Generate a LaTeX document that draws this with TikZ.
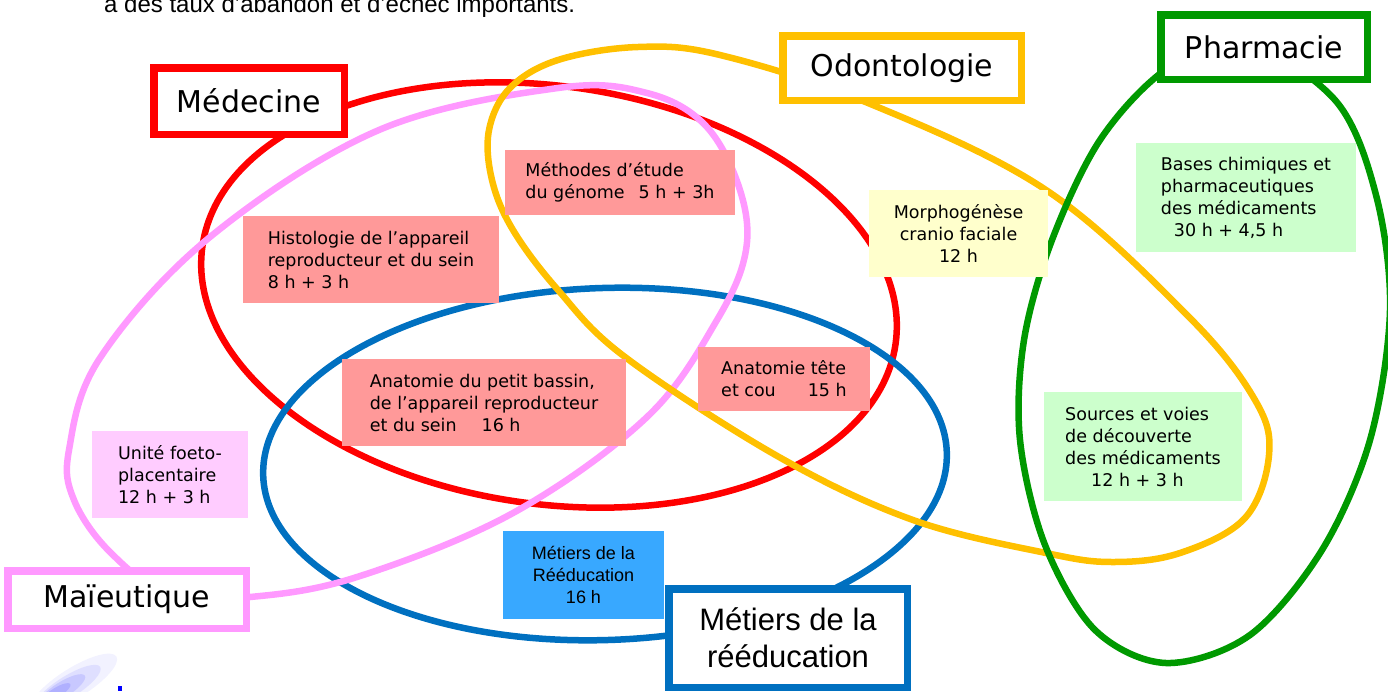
\documentclass[tikz,border=0pt]{standalone}
\usepackage{fontspec}
\setmainfont{DejaVu Sans}
\newfontfamily\arialfont{Liberation Sans}
\definecolor{medred}{HTML}{FF0000}
\definecolor{odoorange}{HTML}{FFC000}
\definecolor{phgreen}{HTML}{009900}
\definecolor{reblue}{HTML}{0070C0}
\definecolor{maipink}{HTML}{FF99FF}
\definecolor{salmon}{HTML}{FF9999}
\definecolor{paleyellow}{HTML}{FFFFCC}
\definecolor{palegreen}{HTML}{CCFFCC}
\definecolor{palepink}{HTML}{FFCCFF}
\definecolor{skyblue}{HTML}{38A8FF}

\begin{document}
\begin{tikzpicture}[x=1pt,y=-1pt,
   ring/.style={line width=6.5pt},
   title/.style={line width=7.5pt,fill=white,text=black,inner sep=0pt,
      font=\fontsize{30}{36}\selectfont},
   course/.style={inner sep=0pt,align=left,font=\fontsize{17.5}{22}\selectfont}]
   \useasboundingbox (0,0) rectangle (1388,691);

   \node[anchor=base west,inner sep=0pt,font=\arialfont\fontsize{24}{28}\selectfont]
      (intro) at (104,12) {à des taux d’abandon et d’échec importants.};

   \fill[blue,opacity=0.05,rotate around={32:(74,683)}] (74,683) ellipse [x radius=50, y radius=15];
   \fill[blue,opacity=0.08,rotate around={32:(68,687)}] (68,687) ellipse [x radius=38, y radius=11];
   \fill[blue,opacity=0.10,rotate around={32:(62,690)}] (62,690) ellipse [x radius=27, y radius=8];
   \fill[blue,opacity=0.12,rotate around={32:(56,693)}] (56,693) ellipse [x radius=17, y radius=5];
   \fill[blue] (118,686) rectangle (122,691);

   \draw[ring,medred] (549,295) ellipse [x radius=350, y radius=209, rotate=-8];
   \draw[ring,reblue] (605,464) ellipse [x radius=342, y radius=176, rotate=2];
   \draw[ring,maipink] plot[smooth cycle,tension=0.6] coordinates {
      (69,450) (100,358) (210,237) (379,130) (558,88) (647,93) (705,125)
      (739,187) (746,250) (717,320) (647,417) (513,513) (357,577) (250,597)
      (170,595) (110,552) (74,500)};
   \draw[ring,odoorange] plot[smooth cycle,tension=0.6] coordinates {
      (489,130) (510,88) (558,60) (638,47) (720,55) (868,103) (1046,190)
      (1189,317) (1255,400) (1269,455) (1245,518) (1180,553) (1113,562)
      (1046,553) (913,520) (779,457) (625,357) (558,290) (513,230) (492,180)};
   \draw[ring,phgreen] plot[smooth cycle,tension=0.55] coordinates {
      (1240,40) (1335,100) (1376,195) (1390,310) (1370,440) (1322,550)
      (1250,635) (1166,663) (1095,630) (1045,545) (1020,440) (1024,340)
      (1052,240) (1100,140) (1165,70)};

   \node[course,fill=salmon,minimum width=230pt,minimum height=65pt]
      (genome) at (620,182.5) {Méthodes d’étude\\du génome\hspace{14pt}5 h + 3h};
   \node[course,fill=salmon,minimum width=256pt,minimum height=87pt]
      (histo) at (371,259.5) {Histologie de l’appareil\\reproducteur et du sein\\8 h + 3 h};
   \node[course,fill=salmon,minimum width=284pt,minimum height=87pt]
      (bassin) at (484,402.5) {Anatomie du petit bassin,\\de l’appareil reproducteur\\et du sein\hspace{25pt}16 h};
   \node[course,fill=salmon,minimum width=172pt,minimum height=64pt]
      (tete) at (784,379) {Anatomie tête\\et cou\hspace{32pt}15 h};
   \node[course,fill=paleyellow,align=center,minimum width=179pt,minimum height=87pt]
      (morpho) at (958.5,233.5) {Morphogénèse\\cranio faciale\\12 h};
   \node[course,fill=palegreen,minimum width=220pt,minimum height=109pt]
      (bases) at (1246,197.5) {Bases chimiques et\\pharmaceutiques\\des médicaments\\\hspace*{13pt}30 h + 4,5 h};
   \node[course,fill=palegreen,minimum width=198pt,minimum height=109pt]
      (sources) at (1143,446.5) {Sources et voies\\de découverte\\des médicaments\\\hspace*{26pt}12 h + 3 h};
   \node[course,fill=palepink,minimum width=156pt,minimum height=87pt]
      (foeto) at (170,474.5) {Unité foeto-\\placentaire\\12 h + 3 h};
   \node[course,fill=skyblue,align=center,minimum width=161pt,minimum height=88pt,
      font=\arialfont\fontsize{18}{22}\selectfont]
      (metiers) at (583.5,575) {Métiers de la\\Rééducation\\16 h};

   \node[title,draw=medred,minimum width=190.5pt,minimum height=66.5pt]
      (medecine) at (249,101) {Médecine};
   \node[title,draw=odoorange,minimum width=238.5pt,minimum height=64.5pt]
      (odonto) at (902,68) {Odontologie};
   \node[title,draw=phgreen,minimum width=206.5pt,minimum height=64.5pt]
      (pharma) at (1264,47) {Pharmacie};
   \node[title,draw=maipink,minimum width=238.5pt,minimum height=57.5pt]
      (maieut) at (127,599.5) {Maïeutique};
   \node[title,draw=reblue,align=center,minimum width=238.5pt,minimum height=98.5pt,
      font=\arialfont\fontsize{31}{37}\selectfont]
      (reeduc) at (788,638) {Métiers de la\\rééducation};
\end{tikzpicture}
\end{document}
